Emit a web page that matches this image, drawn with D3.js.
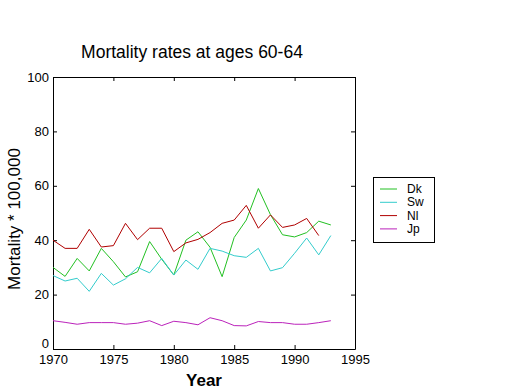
<!DOCTYPE html>
<html><head><meta charset="utf-8">
<script src="https://cdn.jsdelivr.net/npm/d3@7"></script>
<style>body{margin:0;background:#fff}svg{display:block}text{font-family:Arial,"Liberation Sans",sans-serif}</style>
</head><body>
<script>
const years = d3.range(1970, 1994);
const dk = [30,26.7,33.3,28.7,37,32.1,26.5,28.4,39.5,33,27.2,40,43.1,37.4,26.6,41,47.4,59,49.4,42,41.2,42.8,47,45.6];
const sw = [27,25,26,21.2,27.8,23.5,25.8,30,28,33.3,27.2,32.7,29.3,37,36,34.3,33.7,37,28.7,29.9,35.2,40.8,34.6,41.7];
const nl = [40,37,37,44,37.5,38,46.2,40.2,44.4,44.4,35.8,39,40.3,42.8,46.2,47.4,52.8,44.4,49.3,44.7,45.6,48,41.7];
const jp = [10.4,9.8,9.1,9.7,9.7,9.7,9.1,9.5,10.4,8.6,10.2,9.7,8.9,11.5,10.4,8.6,8.5,10.1,9.7,9.7,9.1,9.1,9.7,10.4];
const seriesNames = ["Dk","Sw","Nl","Jp"];
const seriesData = [dk, sw, nl, jp];
const colors = ["#22c022","#33cccc","#b00000","#bb22bb"];
const xTicks = [1970,1975,1980,1985,1990,1995];
const yTicks = [0,20,40,60,80,100];

const W = 520, H = 390;
const svg = d3.select("body").append("svg").attr("width", W).attr("height", H);
const L = 53, R = 355, T = 77, B = 349;
const x = d3.scaleLinear().domain([1970,1995]).range([L,R]);
const y = d3.scaleLinear().domain([0,100]).range([B,T]);

// axes
const ax = svg.append("g");
ax.append("g").attr("transform",`translate(0,${B})`)
  .call(d3.axisBottom(x).tickValues(xTicks).tickFormat(d3.format("d")).tickSizeInner(-4).tickSizeOuter(0).tickPadding(6));
ax.append("g").attr("transform",`translate(0,${T})`)
  .call(d3.axisTop(x).tickValues(xTicks).tickFormat("").tickSizeInner(-4).tickSizeOuter(0));
ax.append("g").attr("transform",`translate(${L},0)`)
  .call(d3.axisLeft(y).tickValues(yTicks).tickSizeInner(-4).tickSizeOuter(0).tickPadding(4));
ax.append("g").attr("transform",`translate(${R},0)`)
  .call(d3.axisRight(y).tickValues(yTicks).tickFormat("").tickSizeInner(-4).tickSizeOuter(0));
ax.selectAll(".domain").attr("stroke","#000");
ax.selectAll(".tick line").attr("stroke","#000");
ax.selectAll(".tick text").attr("font-size",13).attr("fill","#000");
ax.selectAll(".tick text").filter(d=>d===0).attr("dy","-0.1em");

// lines
const line = d3.line().x((d,i)=>x(years[i])).y(d=>y(d));
seriesData.forEach((s,k)=>{
  svg.append("path").datum(s).attr("d",line).attr("fill","none")
    .attr("stroke",colors[k]).attr("stroke-width",1);
});

// title and labels
svg.append("text").attr("x",192).attr("y",58).attr("text-anchor","middle")
  .attr("font-size",17.5).text("Mortality rates at ages 60-64");
svg.append("text").attr("x",204).attr("y",386).attr("text-anchor","middle")
  .attr("font-size",17).attr("font-weight","bold").text("Year");
svg.append("text").attr("transform","translate(20,219) rotate(-90)").attr("text-anchor","middle")
  .attr("font-size",17).text("Mortality * 100,000");

// legend
const lg = svg.append("g");
lg.append("rect").attr("x",373.5).attr("y",177.5).attr("width",61).attr("height",65)
  .attr("fill","#fff").attr("stroke","#000");
seriesNames.forEach((n,k)=>{
  const yy = 189 + k*13.3;
  lg.append("line").attr("x1",380).attr("x2",397).attr("y1",yy).attr("y2",yy).attr("stroke",colors[k]);
  lg.append("text").attr("x",407).attr("y",yy+4).attr("font-size",12).text(n);
});
</script>
</body></html>
